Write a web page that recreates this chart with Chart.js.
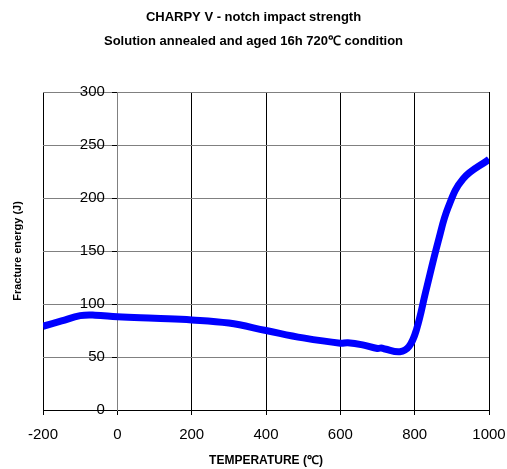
<!DOCTYPE html>
<html><head><meta charset="utf-8">
<script src="https://cdn.jsdelivr.net/npm/chart.js@4.4.1/dist/chart.umd.min.js"></script>
<style>html,body{margin:0;padding:0;background:#fff}#w{width:507px;height:469px;position:relative}</style>
</head><body><div id="w"><canvas id="c"></canvas></div>
<script>
const titleLines = ['CHARPY V - notch impact strength', 'Solution annealed and aged 16h 720\u2103 condition'];
const xAxisTitle = 'TEMPERATURE (\u2103)';
const yAxisTitle = 'Fracture energy (J)';
const temperatures = [-200, -150, -100, -60, 0, 100, 200, 300, 400, 500, 600, 620, 660, 700, 710, 720, 760, 785, 805, 830, 864, 890, 930, 1000];
const energies     = [79, 84, 89, 89.5, 88, 86.5, 85, 82, 75, 68, 63, 63.5, 61.5, 58, 58.5, 57.5, 55, 60, 76, 112, 160, 191, 218, 236.5];
const xTickValues = [-200, 0, 200, 400, 600, 800, 1000];
const yTickValues = [0, 50, 100, 150, 200, 250, 300];

const FONT = "'Liberation Sans', Arial, sans-serif";
const points = temperatures.map((t, i) => ({x: t, y: energies[i]}));

new Chart(document.getElementById('c'), {
  type: 'line',
  data: { datasets: [{
    data: points,
    borderColor: '#0000ff',
    borderWidth: 7,
    pointRadius: 0,
    fill: false,
    tension: 0.4,
    borderCapStyle: 'butt',
    borderJoinStyle: 'round'
  }]},
  options: {
    responsive: true,
    maintainAspectRatio: false,
    devicePixelRatio: 1,
    animation: false,
    layout: { padding: { left: 0, right: 0, top: 0, bottom: 0 } },
    plugins: {
      legend: { display: false },
      tooltip: { enabled: false },
      title: {
        display: true,
        text: titleLines,
        color: '#000',
        font: { family: FONT, size: 13, weight: 'bold', lineHeight: 1.8 },
        padding: { top: 6.1, bottom: 39.1 }
      }
    },
    scales: {
      x: {
        type: 'linear',
        position: 'bottom',
        min: xTickValues[0],
        max: xTickValues[xTickValues.length - 1],
        afterBuildTicks: s => { s.ticks = xTickValues.map(v => ({value: v})); },
        afterFit: s => { s.height = 59; s.paddingRight = 18; s.paddingLeft = 16; },
        ticks: { color: '#000', font: { family: FONT, size: 15 }, padding: 11, maxRotation: 0,
          callback: v => String(v) },
        grid: { color: '#000', lineWidth: 1, tickLength: 5, tickColor: '#000' },
        border: { color: '#000', width: 1 },
        title: { display: true, text: xAxisTitle, color: '#000',
          font: { family: FONT, size: 12, weight: 'bold' }, padding: { top: 0, bottom: 1 } }
      },
      y: {
        type: 'linear',
        position: { x: 0 },
        min: yTickValues[0],
        max: yTickValues[yTickValues.length - 1],
        afterBuildTicks: s => { s.ticks = yTickValues.map(v => ({value: v})); },
        afterFit: s => { s.width = 0; },
        ticks: { color: '#000', font: { family: FONT, size: 15 }, padding: 6,
          callback: v => String(v) + '   ' },
        grid: { color: c => (c.tick && c.tick.value === 0) ? '#000' : '#808080', lineWidth: 1, tickLength: 5, tickColor: '#000' },
        border: { color: '#808080', width: 1 }
      },
      yT: {
        type: 'linear',
        position: 'left',
        min: 0, max: 1,
        ticks: { display: false },
        grid: { display: false, drawTicks: false },
        border: { display: false },
        title: { display: true, text: yAxisTitle, color: '#000',
          font: { family: FONT, size: 11, weight: 'bold' }, padding: { top: 11, bottom: 18.8 } }
      }
    }
  }
});
</script>
</body></html>
